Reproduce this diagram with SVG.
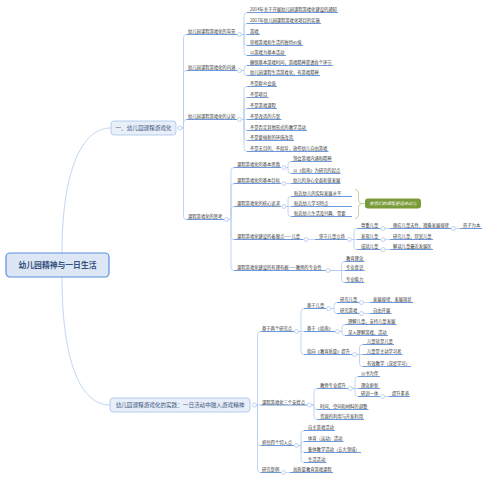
<svg xmlns="http://www.w3.org/2000/svg" width="494" height="481" viewBox="0 0 494 481">
<style>
.t{font-family:"Noto Sans CJK SC","Noto Sans",sans-serif;font-size:4.3px;fill:#333}
.c{fill:none;stroke:#b4cbee;stroke-width:0.8}
.u{stroke:#5b8fd9;stroke-width:0.9}
.k{fill:#fff;stroke:#a9c2ea;stroke-width:0.7}
.b1{fill:#e9eff9;stroke:#a6c1ea;stroke-width:0.8}
.t1{font-family:"Noto Sans CJK SC","Noto Sans",sans-serif;font-size:5.6px;fill:#3b5680;text-anchor:middle}
</style>
<rect width="494" height="481" fill="#fff"/>
<g id="connectors">
<path class="c" d="M62,253 C62,175 80,128 111,128"/>
<path class="c" d="M62,277 C62,360 80,405 110,405"/>
<path class="c" d="M182.2,128 H183.5 V37.5 Q183.5,34.5 186.5,34.5"/>
<path class="c" d="M182.2,128 H183.5 V73.5 Q183.5,70.5 186.5,70.5"/>
<path class="c" d="M182.2,128 H183.5 V122.5 Q183.5,119.5 186.5,119.5"/>
<path class="c" d="M182.2,128 H183.5 V216.5 Q183.5,219.5 186.5,219.5"/>
<path class="c" d="M241.7,34.5 H244 V15.5 Q244,12.5 247,12.5"/>
<path class="c" d="M241.7,34.5 H244 V26.5 Q244,23.5 247,23.5"/>
<path class="c" d="M241.7,34.5 H247"/>
<path class="c" d="M241.7,34.5 H244 V42.5 Q244,45.5 247,45.5"/>
<path class="c" d="M241.7,34.5 H244 V52.5 Q244,55.5 247,55.5"/>
<path class="c" d="M241.7,70.5 H244 V68.5 Q244,65.5 247,65.5"/>
<path class="c" d="M241.7,70.5 H244 V72.5 Q244,75.5 247,75.5"/>
<path class="c" d="M241.7,119.5 H244 V89.5 Q244,86.5 247,86.5"/>
<path class="c" d="M241.7,119.5 H244 V100.5 Q244,97.5 247,97.5"/>
<path class="c" d="M241.7,119.5 H244 V111.5 Q244,108.5 247,108.5"/>
<path class="c" d="M241.7,119.5 H247"/>
<path class="c" d="M241.7,119.5 H244 V127.5 Q244,130.5 247,130.5"/>
<path class="c" d="M241.7,119.5 H244 V137.5 Q244,140.5 247,140.5"/>
<path class="c" d="M241.7,119.5 H244 V148.5 Q244,151.5 247,151.5"/>
<path class="c" d="M228.7,219.5 H231 V170.5 Q231,167.5 234,167.5"/>
<path class="c" d="M228.7,219.5 H231 V186.5 Q231,183.5 234,183.5"/>
<path class="c" d="M228.7,219.5 H231 V209.5 Q231,206.5 234,206.5"/>
<path class="c" d="M228.7,219.5 H231 V236.5 Q231,239.5 234,239.5"/>
<path class="c" d="M228.7,219.5 H231 V267.5 Q231,270.5 234,270.5"/>
<path class="c" d="M286.2,167.5 H288 V164.5 Q288,161.5 291,161.5"/>
<path class="c" d="M286.2,167.5 H288 V170.5 Q288,173.5 291,173.5"/>
<path class="c" d="M286.2,183.5 H291"/>
<path class="c" d="M286.2,206.5 H288 V199.5 Q288,196.5 291,196.5"/>
<path class="c" d="M286.2,206.5 H291"/>
<path class="c" d="M286.2,206.5 H288 V213.5 Q288,216.5 291,216.5"/>
<path d="M355,189.5 Q358.5,189.5 358.5,193 V200 Q358.5,203.5 362.5,203.5 Q358.5,203.5 358.5,207 V215 Q358.5,218.5 355,218.5 M362.5,203.5 H365" fill="none" stroke="#b5c98c" stroke-width="0.8"/>
<path class="c" d="M308.2,239.5 H315"/>
<path class="c" d="M351.7,239.5 H354 V231.5 Q354,228.5 357,228.5"/>
<path class="c" d="M351.7,239.5 H357"/>
<path class="c" d="M351.7,239.5 H354 V246.5 Q354,249.5 357,249.5"/>
<path class="c" d="M385.2,228.5 H390"/>
<path class="c" d="M385.2,239.5 H390"/>
<path class="c" d="M385.2,249.5 H390"/>
<path class="c" d="M455.7,228.5 H460"/>
<path class="c" d="M330.2,270.5 H341.5 V264.5 Q341.5,261.5 344.5,261.5"/>
<path class="c" d="M330.2,270.5 H344.5"/>
<path class="c" d="M330.2,270.5 H341.5 V279.5 Q341.5,282.5 344.5,282.5"/>
<path class="c" d="M256.7,405 H257.5 V334.5 Q257.5,331.5 260.5,331.5"/>
<path class="c" d="M256.7,405 H260.5"/>
<path class="c" d="M256.7,405 H257.5 V442.5 Q257.5,445.5 260.5,445.5"/>
<path class="c" d="M256.7,405 H257.5 V469.5 Q257.5,472.5 260.5,472.5"/>
<path class="c" d="M298.7,331.5 H301 V311.5 Q301,308.5 304,308.5"/>
<path class="c" d="M298.7,331.5 H304"/>
<path class="c" d="M298.7,331.5 H301 V351.5 Q301,354.5 304,354.5"/>
<path class="c" d="M330.7,308.5 H334 V305.5 Q334,302.5 337,302.5"/>
<path class="c" d="M330.7,308.5 H334 V310.5 Q334,313.5 337,313.5"/>
<path class="c" d="M363.7,302.5 H370"/>
<path class="c" d="M363.7,313.5 H370"/>
<path class="c" d="M339.7,331.5 H342 V327.5 Q342,324.5 345,324.5"/>
<path class="c" d="M339.7,331.5 H342 V332.5 Q342,335.5 345,335.5"/>
<path class="c" d="M356.7,354.5 H359.5 V347.5 Q359.5,344.5 362.5,344.5"/>
<path class="c" d="M356.7,354.5 H362.5"/>
<path class="c" d="M356.7,354.5 H359.5 V363.5 Q359.5,366.5 362.5,366.5"/>
<path class="c" d="M311.7,405 H314 V391.5 Q314,388.5 317,388.5"/>
<path class="c" d="M311.7,405 H314 V406.5 Q314,409.5 317,409.5"/>
<path class="c" d="M311.7,405 H314 V416.5 Q314,419.5 317,419.5"/>
<path class="c" d="M352.7,388.5 H355 V379.5 Q355,376.5 358,376.5"/>
<path class="c" d="M352.7,388.5 H358"/>
<path class="c" d="M352.7,388.5 H355 V393.5 Q355,396.5 358,396.5"/>
<path class="c" d="M384.7,396.5 H389"/>
<path class="c" d="M298.7,445.5 H301 V433.5 Q301,430.5 304,430.5"/>
<path class="c" d="M298.7,445.5 H301 V444.5 Q301,441.5 304,441.5"/>
<path class="c" d="M298.7,445.5 H301 V449.5 Q301,452.5 304,452.5"/>
<path class="c" d="M298.7,445.5 H301 V459.5 Q301,462.5 304,462.5"/>
<path class="c" d="M285.7,472.5 H290"/>
</g>
<g id="root">
<rect x="6" y="253" width="103" height="24" rx="4" fill="#dce6f4" stroke="#5b8fe0" stroke-width="1.2"/>
<text x="57.5" y="268" font-family="'Noto Sans CJK SC','Noto Sans',sans-serif" font-size="7.8" font-weight="bold" fill="#34507c" text-anchor="middle">幼儿园精神与一日生活</text>
</g>
<g id="n1">
<rect class="b1" x="111" y="121" width="65" height="14" rx="3"/>
<text class="t1" x="143.5" y="130">一、幼儿园课程游戏化</text>
<circle class="k" cx="180" cy="128" r="2"/>
</g>
<g id="n2">
<rect class="b1" x="110" y="398" width="140" height="14" rx="3"/>
<text class="t1" x="180" y="407">幼儿园课程游戏化的实践：一日活动中融入游戏精神</text>
<circle class="k" cx="254.5" cy="405" r="2"/>
</g>
<g id="a1"><line class="u" x1="186.5" y1="34.5" x2="237" y2="34.5"/><text class="t" x="188" y="33.4">幼儿园课程游戏化的背景</text><circle class="k" cx="239.5" cy="34.5" r="2"/></g>
<g id="a2"><line class="u" x1="186.5" y1="70.5" x2="237" y2="70.5"/><text class="t" x="188" y="69.4">幼儿园课程游戏化的内涵</text><circle class="k" cx="239.5" cy="70.5" r="2"/></g>
<g id="a3"><line class="u" x1="186.5" y1="119.5" x2="237" y2="119.5"/><text class="t" x="188" y="118.4">幼儿园课程游戏化的认知</text><circle class="k" cx="239.5" cy="119.5" r="2"/></g>
<g id="a4"><line class="u" x1="186.5" y1="219.5" x2="224" y2="219.5"/><text class="t" x="188" y="218.4">课程游戏化的思考</text><circle class="k" cx="226.5" cy="219.5" r="2"/></g>
<g id="b1"><line class="u" x1="247" y1="12.5" x2="338" y2="12.5"/><text class="t" x="250" y="11.4">2014年关于开展幼儿园课程游戏化建设的通知</text></g>
<g id="b2"><line class="u" x1="247" y1="23.5" x2="321" y2="23.5"/><text class="t" x="250" y="22.4">2017年幼儿园课程游戏化项目的实施</text></g>
<g id="b3"><line class="u" x1="247" y1="34.5" x2="260" y2="34.5"/><text class="t" x="250" y="33.4">游戏</text></g>
<g id="b4"><line class="u" x1="247" y1="45.5" x2="303" y2="45.5"/><text class="t" x="250" y="44.4">珍视游戏和生活的独特价值</text></g>
<g id="b5"><line class="u" x1="247" y1="55.5" x2="286" y2="55.5"/><text class="t" x="250" y="54.4">以游戏为基本活动</text></g>
<g id="b6"><line class="u" x1="247" y1="65.5" x2="333" y2="65.5"/><text class="t" x="250" y="64.4">确保基本游戏时间，游戏精神渗透各个环节</text></g>
<g id="b7"><line class="u" x1="247" y1="75.5" x2="320" y2="75.5"/><text class="t" x="250" y="74.4">幼儿园课程生活游戏化，有游戏精神</text></g>
<g id="b8"><line class="u" x1="247" y1="86.5" x2="277" y2="86.5"/><text class="t" x="250" y="85.4">不是群众会面</text></g>
<g id="b9"><line class="u" x1="247" y1="97.5" x2="268.5" y2="97.5"/><text class="t" x="250" y="96.4">不是项目</text></g>
<g id="b10"><line class="u" x1="247" y1="108.5" x2="277" y2="108.5"/><text class="t" x="250" y="107.4">不是游戏课程</text></g>
<g id="b11"><line class="u" x1="247" y1="119.5" x2="281.5" y2="119.5"/><text class="t" x="250" y="118.4">不是改造的方案</text></g>
<g id="b12"><line class="u" x1="247" y1="130.5" x2="307" y2="130.5"/><text class="t" x="250" y="129.4">不是否定其他形式的教学活动</text></g>
<g id="b13"><line class="u" x1="247" y1="140.5" x2="294" y2="140.5"/><text class="t" x="250" y="139.4">不是要搞新的环境改造</text></g>
<g id="b14"><line class="u" x1="247" y1="151.5" x2="328.5" y2="151.5"/><text class="t" x="250" y="150.4">不是无目的、不指导，放任幼儿自由游戏</text></g>
<g id="c1"><line class="u" x1="234" y1="167.5" x2="281" y2="167.5"/><text class="t" x="237" y="166.4">课程游戏化的基本思路</text><circle class="k" cx="284" cy="167.5" r="2"/></g>
<g id="c2"><line class="u" x1="234" y1="183.5" x2="281" y2="183.5"/><text class="t" x="237" y="182.4">课程游戏化的基本目标</text><circle class="k" cx="284" cy="183.5" r="2"/></g>
<g id="c3"><line class="u" x1="234" y1="206.5" x2="281" y2="206.5"/><text class="t" x="237" y="205.4">课程游戏化的核心追求</text><circle class="k" cx="284" cy="206.5" r="2"/></g>
<g id="c4"><line class="u" x1="234" y1="239.5" x2="303.5" y2="239.5"/><text class="t" x="237" y="238.4">课程游戏化建设的着眼点——儿童</text><circle class="k" cx="306" cy="239.5" r="2"/></g>
<g id="c5"><line class="u" x1="234" y1="270.5" x2="325.5" y2="270.5"/><text class="t" x="237" y="269.4">课程游戏化建设的有理有据——教师的专业性</text><circle class="k" cx="328" cy="270.5" r="2"/></g>
<g id="d1"><line class="u" x1="291" y1="161.5" x2="332" y2="161.5"/><text class="t" x="293" y="160.4">领会游戏内涵和精神</text></g>
<g id="d2"><line class="u" x1="291" y1="173.5" x2="340.5" y2="173.5"/><text class="t" x="293" y="172.4">以《指南》为研究的起点</text></g>
<g id="d3"><line class="u" x1="291" y1="183.5" x2="340.5" y2="183.5"/><text class="t" x="293" y="182.4">幼儿的身心全面和谐发展</text></g>
<g id="d4"><line class="u" x1="291" y1="196.5" x2="352" y2="196.5"/><text class="t" x="294" y="195.4">贴近幼儿的实际发展水平</text></g>
<g id="d5"><line class="u" x1="291" y1="206.5" x2="352" y2="206.5"/><text class="t" x="294" y="205.4">贴近幼儿学习特点</text></g>
<g id="d6"><line class="u" x1="291" y1="216.5" x2="352" y2="216.5"/><text class="t" x="294" y="215.4">贴近幼儿生活及兴趣、需要</text></g>
<g id="summary"><rect x="365" y="198.5" width="56" height="10" rx="3" fill="#789a37"/><text x="393" y="205" font-family="'Noto Sans CJK SC','Noto Sans',sans-serif" font-size="4.3" font-style="italic" fill="#fff" text-anchor="middle">使我们的课程更适合幼儿</text></g>
<g id="e1"><line class="u" x1="315" y1="239.5" x2="347" y2="239.5"/><text class="t" x="319" y="238.4">坚守儿童立场</text><circle class="k" cx="349.5" cy="239.5" r="2"/></g>
<g id="f1"><line class="u" x1="357" y1="228.5" x2="380.5" y2="228.5"/><text class="t" x="361" y="227.4">尊重儿童</text><circle class="k" cx="383" cy="228.5" r="2"/></g>
<g id="f2"><line class="u" x1="357" y1="239.5" x2="380.5" y2="239.5"/><text class="t" x="361" y="238.4">发现儿童</text><circle class="k" cx="383" cy="239.5" r="2"/></g>
<g id="f3"><line class="u" x1="357" y1="249.5" x2="380.5" y2="249.5"/><text class="t" x="361" y="248.4">成就儿童</text><circle class="k" cx="383" cy="249.5" r="2"/></g>
<g id="g1"><line class="u" x1="390" y1="228.5" x2="451" y2="228.5"/><text class="t" x="393" y="227.4">顺应儿童天性，遵循发展规律</text><circle class="k" cx="453.5" cy="228.5" r="2"/></g>
<g id="g1a"><line class="u" x1="460" y1="228.5" x2="482" y2="228.5"/><text class="t" x="463" y="227.4">孩子为本</text></g>
<g id="g2"><line class="u" x1="390" y1="239.5" x2="433" y2="239.5"/><text class="t" x="393" y="238.4">研究儿童，欣赏儿童</text></g>
<g id="g3"><line class="u" x1="390" y1="249.5" x2="433" y2="249.5"/><text class="t" x="393" y="248.4">解读儿童最近发展区</text></g>
<g id="h1"><line class="u" x1="344.5" y1="261.5" x2="364.5" y2="261.5"/><text class="t" x="346" y="260.4">教育理念</text></g>
<g id="h2"><line class="u" x1="344.5" y1="270.5" x2="364.5" y2="270.5"/><text class="t" x="346" y="269.4">专业意识</text></g>
<g id="h3"><line class="u" x1="344.5" y1="282.5" x2="364.5" y2="282.5"/><text class="t" x="346" y="281.4">专业能力</text></g>
<g id="i1"><line class="u" x1="260.5" y1="331.5" x2="294" y2="331.5"/><text class="t" x="262" y="330.4">基于两个研究点</text><circle class="k" cx="296.5" cy="331.5" r="2"/></g>
<g id="i2"><line class="u" x1="260.5" y1="405" x2="307" y2="405"/><text class="t" x="262" y="403.9">课程游戏化三个支撑点</text><circle class="k" cx="309.5" cy="405" r="2"/></g>
<g id="i3"><line class="u" x1="260.5" y1="445.5" x2="294" y2="445.5"/><text class="t" x="262" y="444.4">抓住四个切入点</text><circle class="k" cx="296.5" cy="445.5" r="2"/></g>
<g id="i4"><line class="u" x1="260.5" y1="472.5" x2="281" y2="472.5"/><text class="t" x="262" y="471.4">研究案例</text><circle class="k" cx="283.5" cy="472.5" r="2"/></g>
<g id="j1"><line class="u" x1="304" y1="308.5" x2="326" y2="308.5"/><text class="t" x="307" y="307.4">基于儿童</text><circle class="k" cx="328.5" cy="308.5" r="2"/></g>
<g id="j2"><line class="u" x1="304" y1="331.5" x2="335" y2="331.5"/><text class="t" x="307" y="330.4">基于《指南》</text><circle class="k" cx="337.5" cy="331.5" r="2"/></g>
<g id="j3"><line class="u" x1="304" y1="354.5" x2="352" y2="354.5"/><text class="t" x="307" y="353.4">指向《教育质量》提升</text><circle class="k" cx="354.5" cy="354.5" r="2"/></g>
<g id="k1"><line class="u" x1="337" y1="302.5" x2="359" y2="302.5"/><text class="t" x="340" y="301.4">研究儿童</text><circle class="k" cx="361.5" cy="302.5" r="2"/></g>
<g id="k2"><line class="u" x1="337" y1="313.5" x2="359" y2="313.5"/><text class="t" x="340" y="312.4">研究游戏</text><circle class="k" cx="361.5" cy="313.5" r="2"/></g>
<g id="l1"><line class="u" x1="370" y1="302.5" x2="413" y2="302.5"/><text class="t" x="373" y="301.4">发展规律、发展现状</text></g>
<g id="l2"><line class="u" x1="370" y1="313.5" x2="391.5" y2="313.5"/><text class="t" x="373" y="312.4">自由开展</text></g>
<g id="k3"><line class="u" x1="345" y1="324.5" x2="396.5" y2="324.5"/><text class="t" x="348" y="323.4">理解儿童，支持儿童发展</text></g>
<g id="k4"><line class="u" x1="345" y1="335.5" x2="388" y2="335.5"/><text class="t" x="348" y="334.4">深入理解游戏、活动</text></g>
<g id="k5"><line class="u" x1="362.5" y1="344.5" x2="394" y2="344.5"/><text class="t" x="367" y="343.4">儿童就是儿童</text></g>
<g id="k6"><line class="u" x1="362.5" y1="354.5" x2="402.5" y2="354.5"/><text class="t" x="367" y="353.4">儿童是主动学习者</text></g>
<g id="k7"><line class="u" x1="362.5" y1="366.5" x2="411" y2="366.5"/><text class="t" x="367" y="365.4">有效教学（深度学习）</text></g>
<g id="m1"><line class="u" x1="317" y1="388.5" x2="348" y2="388.5"/><text class="t" x="320" y="387.4">教师专业提升</text><circle class="k" cx="350.5" cy="388.5" r="2"/></g>
<g id="m2"><line class="u" x1="317" y1="409.5" x2="368.5" y2="409.5"/><text class="t" x="320" y="408.4">时间、空间和材料的调整</text></g>
<g id="m3"><line class="u" x1="317" y1="419.5" x2="364" y2="419.5"/><text class="t" x="320" y="418.4">资源的利用与开发利用</text></g>
<g id="n1a"><line class="u" x1="358" y1="376.5" x2="380" y2="376.5"/><text class="t" x="361" y="375.4">以书为伴</text></g>
<g id="n2a"><line class="u" x1="358" y1="388.5" x2="380" y2="388.5"/><text class="t" x="361" y="387.4">理念更新</text></g>
<g id="n3a"><line class="u" x1="358" y1="396.5" x2="380" y2="396.5"/><text class="t" x="361" y="395.4">研训一体</text><circle class="k" cx="382.5" cy="396.5" r="2"/></g>
<g id="n4a"><line class="u" x1="389" y1="396.5" x2="410" y2="396.5"/><text class="t" x="392" y="395.4">提升素养</text></g>
<g id="o1"><line class="u" x1="304" y1="430.5" x2="335" y2="430.5"/><text class="t" x="308" y="429.4">自主游戏活动</text></g>
<g id="o2"><line class="u" x1="304" y1="441.5" x2="343.5" y2="441.5"/><text class="t" x="308" y="440.4">体育（运动）活动</text></g>
<g id="o3"><line class="u" x1="304" y1="452.5" x2="361" y2="452.5"/><text class="t" x="308" y="451.4">集体教学活动（五大领域）</text></g>
<g id="o4"><line class="u" x1="304" y1="462.5" x2="326.5" y2="462.5"/><text class="t" x="308" y="461.4">生活活动</text></g>
<g id="p1"><line class="u" x1="290" y1="472.5" x2="333" y2="472.5"/><text class="t" x="293" y="471.4">高质量教育游戏课程</text></g>
</svg>
